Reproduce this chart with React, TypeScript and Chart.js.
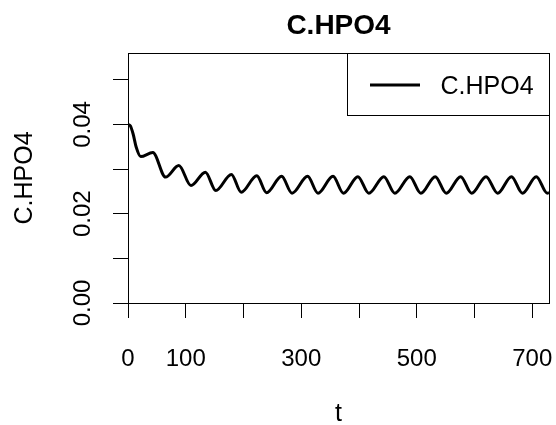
import React, { useEffect, useRef } from "react";
import { Chart, registerables } from "chart.js";

Chart.register(...registerables);

// ---- data ----
const TITLE = "C.HPO4";
const SERIES_LABEL = "C.HPO4";
const X_LABEL = "t";
const Y_LABEL = "C.HPO4";

const T = [
  0, 4, 9, 14, 22, 43, 65, 88, 109, 134, 152, 179, 196, 223, 240, 266, 284, 311,
  329, 355, 373, 398, 417, 443, 462, 488, 507, 532, 551, 576, 595, 620, 640, 664,
  683, 707, 726, 729,
];
const C_HPO4 = [
  0.04, 0.0397, 0.0378, 0.035, 0.0328, 0.0337, 0.0282, 0.0308, 0.0263, 0.0293,
  0.0252, 0.0288, 0.0248, 0.0285, 0.0247, 0.0284, 0.0246, 0.0284, 0.0246, 0.0284,
  0.0246, 0.0283, 0.0246, 0.0283, 0.0246, 0.0283, 0.0246, 0.0283, 0.0246, 0.0283,
  0.0246, 0.0283, 0.0246, 0.0283, 0.0246, 0.0283, 0.0246, 0.0247,
];

const X_TICK_VALUES = [0, 100, 300, 500, 700];
const X_TICK_LABELS = ["0", "100", "300", "500", "700"];
const Y_TICK_VALUES = [0, 0.02, 0.04];
const Y_TICK_LABELS = ["0.00", "0.02", "0.04"];

const X_MIN = 0;
const X_MAX = 729;
const Y_MIN = 0;
const Y_MAX = 0.056;

const FONT = "'Liberation Sans', Arial, Helvetica, sans-serif";

const rPlotPlugin = {
  id: "rPlot",
  afterDraw(chart: any) {
    const ctx = chart.ctx as CanvasRenderingContext2D;
    const area = chart.chartArea;
    const xs = chart.scales.x;
    const ys = chart.scales.y;
    ctx.save();
    ctx.fillStyle = "#000";
    ctx.strokeStyle = "#000";

    // box
    ctx.lineWidth = 1;
    ctx.strokeRect(
      Math.round(area.left) + 0.5,
      Math.round(area.top) + 0.5,
      Math.round(area.right) - Math.round(area.left),
      Math.round(area.bottom) - Math.round(area.top)
    );

    // title
    const cx = (area.left + area.right) / 2;
    ctx.font = `bold 28px ${FONT}`;
    ctx.textAlign = "center";
    ctx.textBaseline = "alphabetic";
    ctx.fillText(TITLE, cx, 33.5);

    // x tick labels
    ctx.font = `24px ${FONT}`;
    X_TICK_VALUES.forEach((v, i) => {
      ctx.fillText(X_TICK_LABELS[i], xs.getPixelForValue(v), 365.5);
    });

    // x axis title
    ctx.font = `25px ${FONT}`;
    ctx.fillText(X_LABEL, cx, 421);

    // y tick labels (rotated)
    ctx.font = `24px ${FONT}`;
    Y_TICK_VALUES.forEach((v, i) => {
      ctx.save();
      ctx.translate(89.5, ys.getPixelForValue(v));
      ctx.rotate(-Math.PI / 2);
      ctx.textAlign = "center";
      ctx.fillText(Y_TICK_LABELS[i], 0, 0);
      ctx.restore();
    });

    // y axis title
    ctx.save();
    ctx.font = `25px ${FONT}`;
    ctx.translate(31.5, (area.top + area.bottom) / 2);
    ctx.rotate(-Math.PI / 2);
    ctx.textAlign = "center";
    ctx.fillText(Y_LABEL, 0, 0);
    ctx.restore();

    // legend (top right, inside plot)
    const lgLeft = 347;
    const lgTop = Math.round(area.top);
    const lgRight = Math.round(area.right);
    const lgBottom = 115;
    ctx.lineWidth = 1;
    ctx.fillStyle = "#fff";
    ctx.fillRect(lgLeft, lgTop, lgRight - lgLeft, lgBottom - lgTop);
    ctx.strokeRect(lgLeft + 0.5, lgTop + 0.5, lgRight - lgLeft, lgBottom - lgTop);
    const ds = chart.data.datasets[0];
    ctx.strokeStyle = ds.borderColor;
    ctx.lineWidth = ds.borderWidth;
    ctx.beginPath();
    ctx.moveTo(370, 85);
    ctx.lineTo(420, 85);
    ctx.stroke();
    ctx.fillStyle = "#000";
    ctx.font = `25px ${FONT}`;
    ctx.textAlign = "left";
    ctx.fillText(ds.label, 440.5, 94);

    ctx.restore();
  },
};

export default function App() {
  const canvasRef = useRef<HTMLCanvasElement | null>(null);

  useEffect(() => {
    const canvas = canvasRef.current;
    if (!canvas) return;
    const points = T.map((t, i) => ({ x: t, y: C_HPO4[i] }));
    const chart = new Chart(canvas, {
      type: "line",
      data: {
        datasets: [
          {
            label: SERIES_LABEL,
            data: points,
            borderColor: "#000",
            borderWidth: 3,
            pointRadius: 0,
            fill: false,
            cubicInterpolationMode: "monotone",
          },
        ],
      },
      options: {
        animation: false,
        responsive: false,
        devicePixelRatio: 1,
        layout: { padding: { left: 113, right: 7, top: 53, bottom: 107 } },
        plugins: {
          legend: { display: false },
          title: { display: false },
          tooltip: { enabled: false },
        },
        scales: {
          x: {
            type: "linear",
            min: X_MIN,
            max: X_MAX,
            border: { display: false },
            grid: {
              display: true,
              drawOnChartArea: false,
              drawTicks: true,
              tickLength: 15,
              color: "#000",
              lineWidth: 1,
            },
            ticks: { display: false, stepSize: 100, includeBounds: false },
          },
          y: {
            type: "linear",
            min: Y_MIN,
            max: Y_MAX,
            border: { display: false },
            grid: {
              display: true,
              drawOnChartArea: false,
              drawTicks: true,
              tickLength: 15,
              color: "#000",
              lineWidth: 1,
            },
            ticks: { display: false, stepSize: 0.01, includeBounds: false },
          },
        },
      },
      plugins: [rPlotPlugin],
    });
    return () => chart.destroy();
  }, []);

  return (
    <div style={{ position: "absolute", left: 0, top: 0, width: 556, height: 425, background: "#fff" }}>
      <canvas ref={canvasRef} width={556} height={425} style={{ display: "block" }} />
    </div>
  );
}
